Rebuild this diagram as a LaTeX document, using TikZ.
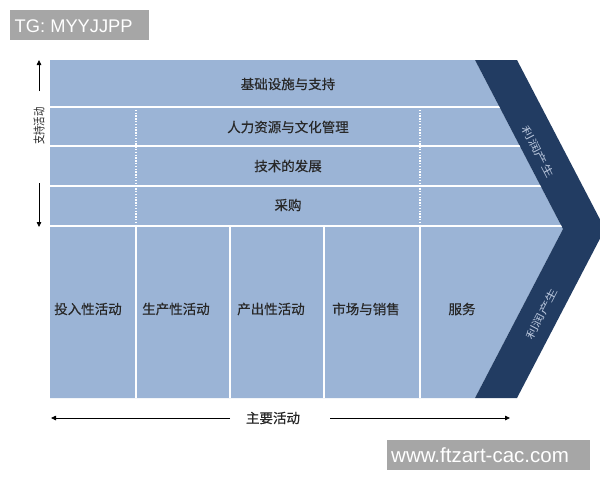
\documentclass[tikz,border=0pt]{standalone}
\usepackage{fontspec}
\usepackage{graphicx}
\setmainfont{Liberation Sans}
\newfontfamily\cjk{Noto Sans CJK SC}
\newfontfamily\cjkb[FakeBold=0.4]{Noto Sans CJK SC}
\usetikzlibrary{arrows.meta}
\definecolor{lightblue}{RGB}{155,180,214}
\definecolor{navy}{RGB}{34,60,98}
\definecolor{txt}{RGB}{40,40,40}
\definecolor{bandtxt}{RGB}{185,198,220}
\definecolor{wmgray}{RGB}{166,166,166}
\tikzset{
  lbl/.style={font=\cjkb\fontsize{13.5}{14}\selectfont, text=txt, inner sep=0pt},
  sidelbl/.style={font=\cjk\fontsize{12}{12}\selectfont, text=txt, inner sep=0pt},
  bandlbl/.style={font=\cjk\fontsize{14}{14}\selectfont, text=bandtxt, inner sep=0pt},
  sep/.style={draw=white, line width=1.8pt},
  dotsep/.style={draw=white, line width=1.4pt, dash pattern=on 1.4pt off 1.4pt},
  arr/.style={draw=black, line width=0.8pt, -{Triangle[length=5pt,width=4.5pt]}},
  wmtext/.style={text=white, inner sep=0pt, anchor=base west}
}
\begin{document}
\begin{tikzpicture}[x=1pt,y=-1pt]
\useasboundingbox (0,0) rectangle (600,480);
\fill[white] (0,0) rectangle (600,480);
% chevron body and band
\begin{scope}
  \clip (0,0) rectangle (600,480);
  \fill[lightblue] (50,60) -- (475,60) -- (563,229) -- (475,398) -- (50,398) -- cycle;
  \fill[navy] (475,60) -- (517,60) -- (605,229) -- (517,398) -- (475,398) -- (563,229) -- cycle;
\end{scope}
% separators
\begin{scope}
  \clip (50,60) -- (475,60) -- (563,229) -- (475,398) -- (50,398) -- cycle;
  \foreach \y in {107,146,186,226} \draw[sep] (50,\y) -- (600,\y);
  \foreach \x in {136,230,324,420} \draw[sep] (\x,226) -- (\x,398);
  \foreach \x in {136,420} \draw[dotsep] (\x,107) -- (\x,226);
\end{scope}
% support activity labels
\node[lbl] (infra) at (288,84) {基础设施与支持};
\node[lbl] (hr) at (288,127) {人力资源与文化管理};
\node[lbl] (tech) at (288,166) {技术的发展};
\node[lbl] (proc) at (288,205) {采购};
% primary activity labels
\node[lbl] (inb) at (88,309) {投入性活动};
\node[lbl] (ops) at (176,309) {生产性活动};
\node[lbl] (outb) at (271,309) {产出性活动};
\node[lbl] (mkt) at (366,309) {市场与销售};
\node[lbl] (svc) at (462,309) {服务};
% band labels
\node[bandlbl, rotate=-62.5] (margin1) at (538,152) {\scalebox{1}[0.72]{利润产生}};
\node[bandlbl, rotate=62.5] (margin2) at (542,314) {\scalebox{1}[0.72]{利润产生}};
% side label and arrows
\node[sidelbl, rotate=90] (support) at (39,126) {\scalebox{0.78}[1]{支持活动}};
\coordinate (up1) at (39,91);
\coordinate (up2) at (39,60);
\coordinate (dn1) at (39,183);
\coordinate (dn2) at (39,227);
\draw[arr] (up1) -- (up2);
\draw[arr] (dn1) -- (dn2);
% bottom label and arrows
\node[lbl] (primary) at (273,418) {主要活动};
\coordinate (la1) at (230,418);
\coordinate (la2) at (51,418);
\coordinate (ra1) at (330,418);
\coordinate (ra2) at (510,418);
\draw[arr] (la1) -- (la2);
\draw[arr] (ra1) -- (ra2);
% watermarks
\fill[wmgray] (10,10) rectangle (149,40);
\node[wmtext, font=\fontsize{18.3}{20}\selectfont] (wm1) at (14.5,32) {TG: MYYJJPP};
\fill[wmgray] (387,440) rectangle (590,470);
\node[wmtext, font=\fontsize{20.5}{22}\selectfont] (wm2) at (391,462) {www.ftzart-cac.com};
\end{tikzpicture}
\end{document}
